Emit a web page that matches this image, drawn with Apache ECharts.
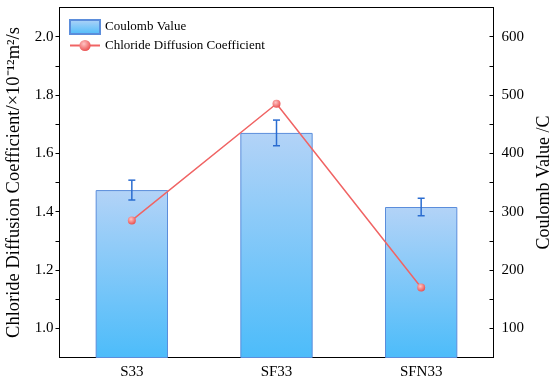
<!DOCTYPE html>
<html>
<head>
<meta charset="utf-8">
<script src="https://cdn.jsdelivr.net/npm/echarts@6/dist/echarts.min.js"></script>
<style>
html,body{margin:0;padding:0;background:#fff;}
#chart{width:550px;height:383px;}
</style>
</head>
<body>
<div id="chart"></div>
<script>
const categories = ['S33', 'SF33', 'SFN33'];
const coulombValues = [337, 435, 308];
const coulombErrors = [17, 22, 15];
const chlorideValues = [1.37, 1.77, 1.14];
const leftTicks = [1.0, 1.2, 1.4, 1.6, 1.8, 2.0];
const rightTicks = [100, 200, 300, 400, 500, 600];

const FONT = "'Liberation Serif', 'Times New Roman', serif";
const errData = categories.map((c, i) => [i, coulombValues[i] - coulombErrors[i], coulombValues[i] + coulombErrors[i]]);

const chart = echarts.init(document.getElementById('chart'));
chart.setOption({
  animation: false,
  backgroundColor: '#fff',
  textStyle: { fontFamily: FONT, color: '#000' },
  grid: { left: 59.5, right: 56.5, top: 7.5, bottom: 25.5, containLabel: false, outerBoundsMode: 'none', show: true, borderColor: '#000', borderWidth: 1, backgroundColor: 'transparent' },
  legend: {
    orient: 'vertical', left: 69, top: 19, padding: 0, itemWidth: 30, itemHeight: 14, itemGap: 4,
    textStyle: { fontFamily: FONT, fontSize: 13, color: '#000' },
    data: [
      { name: 'Coulomb Value', icon: 'rect' },
      { name: 'Chloride Diffusion Coefficient' }
    ]
  },
  xAxis: {
    type: 'category', data: categories, boundaryGap: true,
    axisLine: { lineStyle: { color: '#000', width: 1 } },
    axisTick: { inside: true, alignWithLabel: true, length: 4, lineStyle: { color: '#000' } },
    axisLabel: { fontFamily: FONT, fontSize: 15, color: '#000', margin: 7 }
  },
  yAxis: [
    {
      type: 'value', min: 0.9, max: 2.1, interval: 0.1, position: 'left',
      name: 'Chloride Diffusion Coefficient/×10⁻¹²m²/s', nameLocation: 'middle', nameRotate: 90, nameGap: 33,
      nameTextStyle: { fontFamily: FONT, fontSize: 18.5, color: '#000' },
      axisLine: { show: true, lineStyle: { color: '#000', width: 1 } },
      axisTick: { show: true, length: 4, lineStyle: { color: '#000' } },
      splitLine: { show: false },
      axisLabel: {
        fontFamily: FONT, fontSize: 15, color: '#000', margin: 6,
        showMinLabel: false, showMaxLabel: false,
        formatter: v => { const r = Math.round(v * 10) / 10; return leftTicks.some(t => Math.abs(t - r) < 1e-6) ? r.toFixed(1) : ''; }
      }
    },
    {
      type: 'value', min: 50, max: 650, interval: 50, position: 'right',
      name: 'Coulomb Value /C', nameLocation: 'middle', nameRotate: 90, nameGap: 33,
      nameTextStyle: { fontFamily: FONT, fontSize: 18, color: '#000' },
      axisLine: { show: true, lineStyle: { color: '#000', width: 1 } },
      axisTick: { show: true, inside: true, length: 4, lineStyle: { color: '#000' } },
      splitLine: { show: false },
      axisLabel: {
        fontFamily: FONT, fontSize: 15, color: '#000', margin: 8,
        formatter: v => rightTicks.includes(Math.round(v)) ? String(Math.round(v)) : ''
      }
    }
  ],
  series: [
    {
      name: 'Coulomb Value', type: 'bar', yAxisIndex: 1, data: coulombValues, barWidth: '50%',
      itemStyle: {
        color: new echarts.graphic.LinearGradient(0, 0, 0, 1, [
          { offset: 0, color: '#b3d3f7' },
          { offset: 1, color: '#4cbcfa' }
        ]),
        borderColor: '#5b8ddb', borderWidth: 1
      },
      z: 1
    },
    {
      name: 'errors', type: 'custom', yAxisIndex: 1, data: errData, z: 3,
      renderItem: function (params, api) {
        const x = api.value(0);
        const lo = api.coord([x, api.value(1)]);
        const hi = api.coord([x, api.value(2)]);
        const w = 3.5;
        const style = { stroke: '#2a6cd0', lineWidth: 1.5 };
        return {
          type: 'group',
          children: [
            { type: 'line', shape: { x1: lo[0], y1: lo[1], x2: hi[0], y2: hi[1] }, style: style },
            { type: 'line', shape: { x1: lo[0] - w, y1: lo[1], x2: lo[0] + w, y2: lo[1] }, style: style },
            { type: 'line', shape: { x1: hi[0] - w, y1: hi[1], x2: hi[0] + w, y2: hi[1] }, style: style }
          ]
        };
      }
    },
    {
      name: 'Chloride Diffusion Coefficient', type: 'line', yAxisIndex: 0, data: chlorideValues, z: 4,
      symbol: 'circle', symbolSize: 8,
      lineStyle: { color: '#f06464', width: 1.5 },
      itemStyle: {
        color: new echarts.graphic.RadialGradient(0.4, 0.35, 0.7, [
          { offset: 0, color: '#ffc4c4' },
          { offset: 1, color: '#e84a4a' }
        ]),
        borderWidth: 0
      }
    }
  ]
});
</script>
</body>
</html>
